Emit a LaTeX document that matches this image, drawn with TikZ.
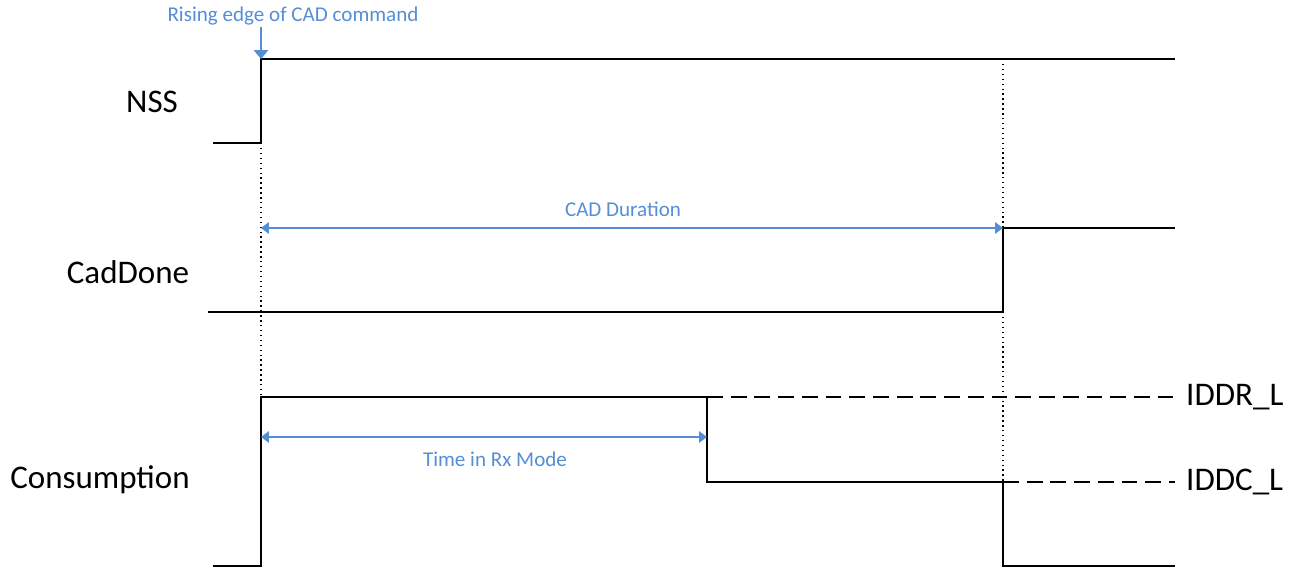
\documentclass[tikz,border=0pt]{standalone}
\usepackage{fontspec}
\setmainfont{Carlito}
\usetikzlibrary{arrows.meta,positioning}
\definecolor{annot}{RGB}{85,142,213}

\begin{document}
\begin{tikzpicture}[x=0.02cm,y=-0.02cm,
    sig/.style={line width=1.1pt,line join=miter},
    level/.style={line width=1.1pt,dash pattern=on 9pt off 4.5pt,shorten >=0.1cm},
    marker/.style={line width=0.8pt,dash pattern=on 0.8pt off 2pt},
    tip/.style={Triangle[length=4.5pt,width=6.5pt]},
    span/.style={annot,line width=1.1pt,{Triangle[length=4.5pt,width=6.5pt]}-{Triangle[length=4.5pt,width=6.5pt]}},
    signame/.style={font=\fontsize{18.8}{22}\selectfont},
    note/.style={annot,font=\fontsize{12}{14}\selectfont}]
    \useasboundingbox (0,0) rectangle (1294,569);

    % time markers
    \coordinate (start) at (261,0);
    \coordinate (rxend) at (707,0);
    \coordinate (done) at (1003,0);

    % signal names
    \node[signame] (nss) at (152,102) {NSS};
    \node[signame] (caddone) at (128,272) {CadDone};
    \node[signame] (cons) at (100,480) {Consumption};
    \node[signame,anchor=west] (iddr) at (1180,397) {IDDR\_L};
    \node[signame,anchor=west] (iddc) at (1180,482) {IDDC\_L};

    % draw NSS
    \draw[sig] (213,143) -- (start |- 0,143) -- (start |- 0,59) -- (1175,59);

    % draw CadDone
    \draw[sig] (208,312) -- (done |- 0,312) -- (done |- 0,228) -- (1175,228);

    % draw Consumption
    \draw[sig] (213,566) -- (start |- 0,566) -- (start |- 0,397)
      -- (rxend |- 0,397) -- (rxend |- 0,482) -- (done |- 0,482)
      -- (done |- 0,566) -- (1175,566);
    \draw[level] (rxend |- 0,397) -- (iddr.west);
    \draw[level] (done |- 0,482) -- (iddc.west);

    % draw vertical markers
    \draw[marker] (start |- 0,143) -- (start |- 0,397);
    \draw[marker] (done |- 0,59) -- (done |- 0,228);
    \draw[marker] (done |- 0,312) -- (done |- 0,482);

    % draw annotations
    \node[note] (rise) at (293,16) {Rising edge of CAD command};
    \draw[annot,line width=1.1pt,-{Triangle[length=5pt,width=8pt]}] (start |- 0,27) -- (start |- 0,59);
    \draw[span] (start |- 0,228) -- (done |- 0,228);
    \node[note] (cadlen) at (623,209) {CAD Duration};
    \draw[span] (start |- 0,437) -- (rxend |- 0,437);
    \node[note] (rxlen) at (495,459) {Time in Rx Mode};
\end{tikzpicture}
\end{document}
